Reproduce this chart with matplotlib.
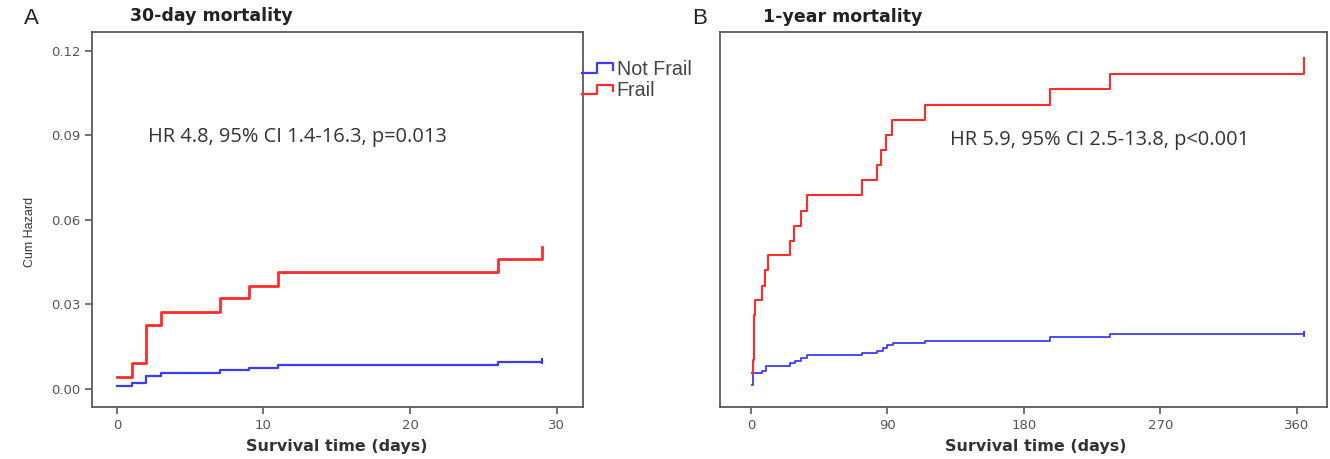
import matplotlib
matplotlib.use("Agg")
import matplotlib.pyplot as plt
from matplotlib.legend_handler import HandlerBase
from matplotlib.lines import Line2D

# ---------------- data ----------------
groups = ["Not Frail", "Frail"]

# Panel A: 30-day mortality (cumulative hazard)
a_notfrail_t = [0, 1, 2, 3, 7, 9, 11, 26, 29]
a_notfrail_h = [0.0010, 0.0020, 0.0047, 0.0056, 0.0067, 0.0076, 0.0085, 0.0095, 0.0100]
a_frail_t = [0, 1, 2, 3, 7, 9, 11, 26, 29]
a_frail_h = [0.0044, 0.0091, 0.0227, 0.0274, 0.0322, 0.0367, 0.0414, 0.0460, 0.0505]

# Panel B: 1-year mortality (cumulative hazard)
b_notfrail_t = [1, 1.5, 7, 10, 26, 29, 33, 37, 73, 83, 87, 89.5, 94, 115, 197, 237, 365]
b_notfrail_h = [0.0014, 0.0056, 0.0064, 0.0083, 0.0091, 0.0101, 0.0109, 0.0121, 0.0127,
                0.0136, 0.0144, 0.0156, 0.0164, 0.0171, 0.0183, 0.0194, 0.0194]
b_frail_t = [1, 1.5, 2, 3, 7, 9, 11, 26, 28.5, 33, 37, 73, 83, 86, 89, 93, 115, 197, 237, 365]
b_frail_h = [0.0056, 0.0103, 0.0263, 0.0316, 0.0366, 0.0422, 0.0476, 0.0526, 0.0579, 0.0633,
             0.0689, 0.0742, 0.0795, 0.0849, 0.0902, 0.0955, 0.1008, 0.1064, 0.1118, 0.1174]

a_xticks = [0, 10, 20, 30]
b_xticks = [0, 90, 180, 270, 360]
yticks = [0.00, 0.03, 0.06, 0.09, 0.12]
ytick_labels = ["0.00", "0.03", "0.06", "0.09", "0.12"]

a_title = "30-day mortality"
b_title = "1-year mortality"
a_note = "HR 4.8, 95% CI 1.4-16.3, p=0.013"
b_note = "HR 5.9, 95% CI 2.5-13.8, p<0.001"
xlabel = "Survival time (days)"
ylabel = "Cum Hazard"

# ---------------- style ----------------
BLUE = "#3b3bf0"
RED = "#ff2a2a"
SPINE = "#5a5a5a"
TXT = "#333333"
W, H = 1330, 459

fig = plt.figure(figsize=(W / 100, H / 100), dpi=100)
fig.patch.set_facecolor("white")


def box(l, r, t, b):
    return [l / W, 1 - b / H, (r - l) / W, (b - t) / H]


axA = fig.add_axes(box(92, 583, 32, 407))
axB = fig.add_axes(box(720, 1327, 32, 407))

for ax in (axA, axB):
    for s in ax.spines.values():
        s.set_color(SPINE)
        s.set_linewidth(1.3)
    ax.tick_params(axis="both", direction="out", length=5, width=1.2,
                   color=SPINE, labelcolor="#555555", labelsize=9.5)
    ax.set_ylim(-0.0064, 0.1267)

note_kw = dict(fontsize=14.4, color=TXT, family="Open Sans", fontstretch="normal",
               fontweight="normal", va="center")

# Panel A
axA.step(a_notfrail_t, a_notfrail_h, where="post", color=BLUE, lw=1.6)
axA.step(a_frail_t, a_frail_h, where="post", color=RED, lw=2.0)
axA.plot([a_notfrail_t[-1]], [a_notfrail_h[-1]], marker="|", color=BLUE, ms=4, mew=1.5)
axA.set_xlim(-1.7, 31.8)
axA.set_xticks(a_xticks)
axA.set_yticks(yticks)
axA.set_yticklabels(ytick_labels)
axA.text(2.1, 0.0895, a_note, **note_kw)

# Panel B
axB.step(b_notfrail_t, b_notfrail_h, where="post", color=BLUE, lw=1.3)
axB.step(b_frail_t, b_frail_h, where="post", color=RED, lw=1.5)
axB.plot([b_notfrail_t[-1]], [b_notfrail_h[-1]], marker="|", color=BLUE, ms=4, mew=1.5)
axB.set_xlim(-20.4, 380)
axB.set_xticks(b_xticks)
axB.set_yticks([])
axB.text(131, 0.0884, b_note, **note_kw)


# legend with step-shaped glyphs
class StepHandler(HandlerBase):
    def create_artists(self, legend, orig_handle, xdescent, ydescent, width, height,
                       fontsize, trans):
        x0 = -xdescent
        y0, y1 = -ydescent + height * 0.15, -ydescent + height * 0.85
        xs = [x0, x0 + width * 0.45, x0 + width * 0.45, x0 + width * 0.95, x0 + width * 0.95]
        ys = [y0, y0, y1, y1, y0 + (y1 - y0) * 0.3]
        ln = Line2D(xs, ys, color=orig_handle.get_color(), lw=1.6, transform=trans)
        return [ln]


handles = [Line2D([], [], color=BLUE), Line2D([], [], color=RED)]
fig.legend(handles, groups, handler_map={Line2D: StepHandler()},
           loc="upper left", bbox_to_anchor=(582 / W, 1 - 60 / H), frameon=False,
           labelcolor="#444444", handlelength=1.65, handletextpad=0.1,
           borderaxespad=0, borderpad=0, labelspacing=0.12,
           prop={"family": "Liberation Sans", "size": 14.2})

# titles, panel letters, axis labels
fig.text(24 / W, 1 - 18 / H, "A", fontsize=16, color="#222222", va="center", ha="left",
         family="Liberation Sans")
fig.text(692 / W, 1 - 18 / H, "B", fontsize=16, color="#222222", va="center", ha="left",
         family="Liberation Sans")
fig.text(130 / W, 1 - 16 / H, a_title, fontsize=12.5, fontweight="bold", color="#222222",
         va="center", ha="left")
fig.text(763 / W, 1 - 17 / H, b_title, fontsize=12.5, fontweight="bold", color="#222222",
         va="center", ha="left")
fig.text(337 / W, 1 - 447 / H, xlabel, fontsize=11.5, fontweight="bold", color="#333333",
         va="center", ha="center")
fig.text(1036 / W, 1 - 447 / H, xlabel, fontsize=11.5, fontweight="bold", color="#333333",
         va="center", ha="center")
fig.text(30 / W, 1 - 232 / H, ylabel, fontsize=9, color="#333333", rotation=90,
         va="center", ha="center", family="Liberation Sans")

fig.savefig("out.png", dpi=100, facecolor="white")
